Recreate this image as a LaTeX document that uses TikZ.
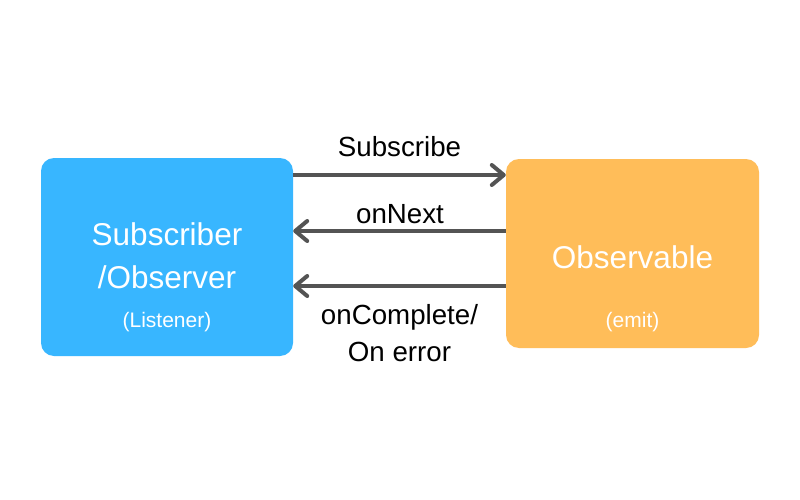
\documentclass[tikz,border=0pt]{standalone}
\usepackage{fontspec}
\setmainfont{Liberation Sans}
\usetikzlibrary{arrows.meta}
\definecolor{subblue}{HTML}{38B6FF}
\definecolor{obsorange}{HTML}{FFBD59}
\definecolor{arrgray}{HTML}{545454}
\begin{document}
\begin{tikzpicture}[x=1pt,y=-1pt,
  box/.style={rectangle,rounded corners=13pt,inner sep=0pt},
  bigtxt/.style={anchor=base,text=white,font=\fontsize{31.5}{38}\selectfont,inner sep=0pt},
  smalltxt/.style={anchor=base,text=white,font=\fontsize{21}{25}\selectfont,inner sep=0pt},
  lbl/.style={anchor=base,text=black,font=\fontsize{27.7}{33}\selectfont,inner sep=0pt},
  conn/.style={draw=arrgray,line width=4pt,-{Straight Barb[length=12pt,width=20pt,round]}}
]
\useasboundingbox[fill=white] (0,0) rectangle (800,500);
\node[box,fill=subblue,minimum width=252pt,minimum height=198pt] (sub) at (167,257) {};
\node[box,fill=obsorange,minimum width=253pt,minimum height=189pt] (obs) at (632.5,253.5) {};
\node[bigtxt] (t1) at (167,245) {Subscriber};
\node[bigtxt] (t2) at (167,288.5) {/Observer};
\node[smalltxt] (t3) at (167,327.5) {(Listener)};
\node[bigtxt] (t4) at (632.5,268) {Observable};
\node[smalltxt] (t5) at (632.5,327.5) {(emit)};
\coordinate (ya) at (0,175);
\coordinate (yb) at (0,231);
\coordinate (yc) at (0,286);
\draw[conn] (sub.east |- ya) -- (obs.west |- ya);
\draw[conn] (obs.west |- yb) -- (sub.east |- yb);
\draw[conn] (obs.west |- yc) -- (sub.east |- yc);
\node[lbl] (l1) at (399.5,156) {Subscribe};
\node[lbl] (l2) at (400,223.5) {onNext};
\node[lbl] (l3) at (399.5,324) {onComplete/};
\node[lbl] (l4) at (399.5,361.5) {On error};
\end{tikzpicture}
\end{document}
